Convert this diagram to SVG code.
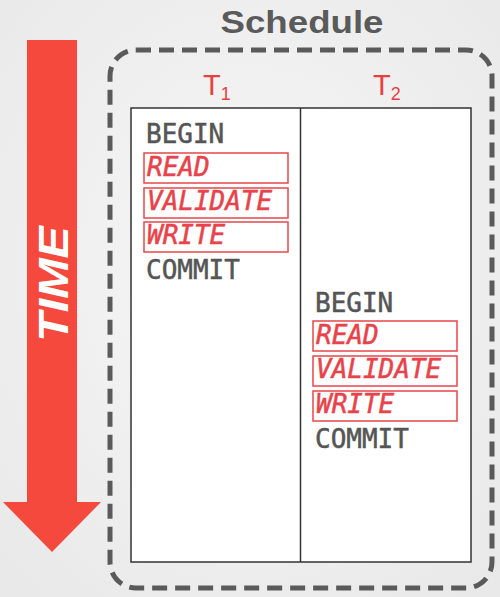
<svg xmlns="http://www.w3.org/2000/svg" width="500" height="597" viewBox="0 0 500 597">
  <defs>
    <radialGradient id="bg" cx="50%" cy="45%" r="70%">
      <stop offset="0" stop-color="#f7f7f7"/>
      <stop offset="1" stop-color="#e9e9e9"/>
    </radialGradient>
    <style>
      .mono { font-family: "DejaVu Sans Mono", "Liberation Mono", monospace; font-size: 26px; stroke-width: 0.5; }
      .plain { fill: #555555; stroke: #555555; }
      .op { fill: #e8434a; stroke: #e8434a; font-style: italic; }
      .opbox { fill: #ffffff; stroke: #e8474a; stroke-width: 1.5; }
      .tlabel { font-family: "Liberation Sans", Arial, sans-serif; fill: #e8403f; font-size: 29px; }
      .sub { font-size: 18px; }
    </style>
  </defs>
  <rect x="0" y="0" width="500" height="597" fill="url(#bg)"/>

  <g id="time-arrow">
    <path d="M27,40 H77 V502 H101 L52,552 L3,502 H27 Z" fill="#f5493d"/>
    <text x="53" y="284" transform="rotate(-90 53 284)" text-anchor="middle" dominant-baseline="central" font-family="Liberation Sans, Arial, sans-serif" font-weight="bold" font-style="italic" font-size="43" fill="#ffffff" textLength="116" lengthAdjust="spacingAndGlyphs">TIME</text>
  </g>

  <g id="schedule">
    <text x="302" y="33" text-anchor="middle" font-family="Liberation Sans, Arial, sans-serif" font-weight="bold" font-size="31" fill="#5a5a5a" textLength="163" lengthAdjust="spacingAndGlyphs">Schedule</text>
    <rect x="110" y="50" width="382" height="538" rx="26" ry="26" fill="none" stroke="#5a5a5a" stroke-width="5" stroke-dasharray="15 8"/>
  </g>

  <g id="table">
    <rect x="131" y="108" width="340" height="454" fill="#ffffff" stroke="#333333" stroke-width="1.5"/>
    <line x1="300.5" y1="108" x2="300.5" y2="562" stroke="#333333" stroke-width="1.5"/>
  </g>

  <g id="t1-header">
    <text class="tlabel" x="203" y="95">T<tspan class="sub" dy="5">1</tspan></text>
  </g>
  <g id="t2-header">
    <text class="tlabel" x="373" y="95">T<tspan class="sub" dy="5">2</tspan></text>
  </g>

  <g id="t1">
    <text class="mono plain" x="146" y="143">BEGIN</text>
    <rect class="opbox" x="144" y="153" width="144" height="30"/>
    <text class="mono op" x="147" y="176">READ</text>
    <rect class="opbox" x="144" y="188" width="144" height="30"/>
    <text class="mono op" x="147" y="210">VALIDATE</text>
    <rect class="opbox" x="144" y="222" width="144" height="30"/>
    <text class="mono op" x="147" y="244">WRITE</text>
    <text class="mono plain" x="146" y="279">COMMIT</text>
  </g>

  <g id="t2">
    <text class="mono plain" x="315" y="312">BEGIN</text>
    <rect class="opbox" x="313" y="321" width="144" height="30"/>
    <text class="mono op" x="316" y="344">READ</text>
    <rect class="opbox" x="313" y="356" width="144" height="30"/>
    <text class="mono op" x="316" y="378">VALIDATE</text>
    <rect class="opbox" x="313" y="391" width="144" height="30"/>
    <text class="mono op" x="316" y="413">WRITE</text>
    <text class="mono plain" x="315" y="448">COMMIT</text>
  </g>
</svg>
